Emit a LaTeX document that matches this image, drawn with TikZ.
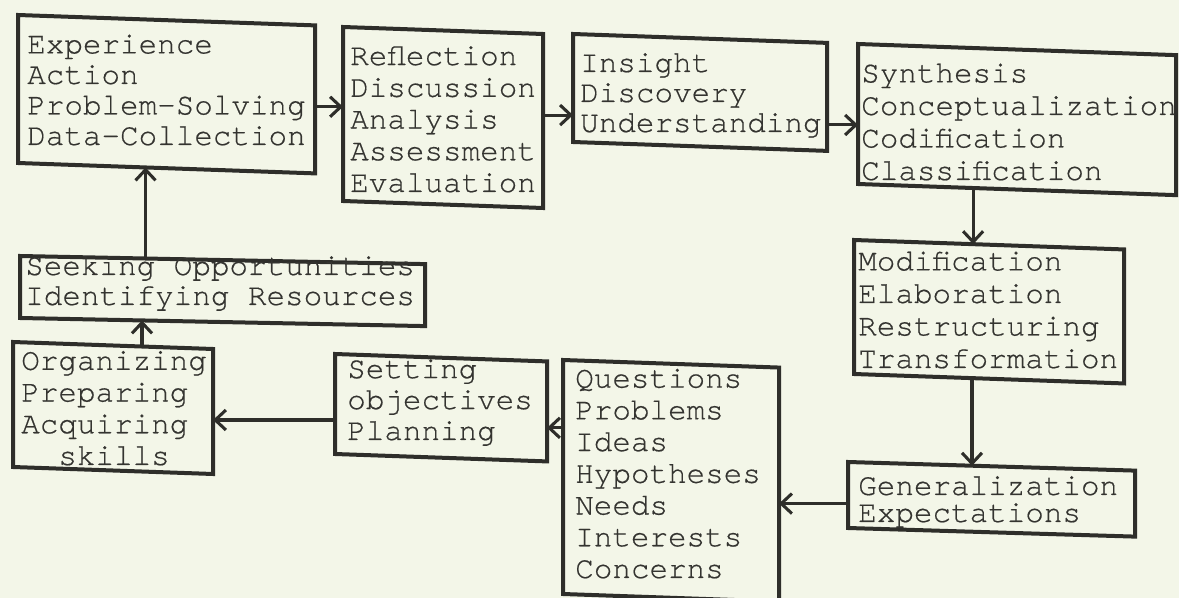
\documentclass[tikz,border=0pt]{standalone}
\usepackage{fontspec}
\newfontfamily\tw[FakeBold=0.5]{TeX Gyre Cursor}
\usetikzlibrary{arrows.meta,calc}
\definecolor{paper}{RGB}{243,246,232}
\definecolor{ink}{RGB}{46,46,42}
\definecolor{typeink}{RGB}{52,52,48}
% a hand-ruled box: [slant], name, left x, top y (left edge), width, height (in px units)
\newcommand\flowbox[6][0.035]{%
  \begin{scope}[shift={(#3,#4)},yslant=-#1]
    \node[boxshape,minimum width=#5*0.75pt,minimum height=#6*0.75pt] (#2) at (0,0) {};
  \end{scope}}
\tikzset{
  boxshape/.style={draw=ink,line width=3pt,rectangle,anchor=north west,
    inner sep=0pt,outer sep=0pt,transform shape},
  % texts are placed by the baseline of their last line
  txt/.style={anchor=base west,align=left,inner sep=0pt,text=typeink,
    font={\tw\fontsize{23.2}{#1}\selectfont}},
  link/.style={draw=ink,line width=2.3pt,line cap=round,
    -{Straight Barb[length=8pt,width=15pt]}},
}
\begin{document}
\begin{tikzpicture}[x=0.75pt,y=-0.75pt]
\useasboundingbox (0,0) rectangle (1179,598);
\fill[paper] (0,0) rectangle (1179,598);

% boxes
\flowbox{b1}{18}{15}{297}{148}
\flowbox{b2}{343}{27}{200}{174}
\flowbox{b3}{573}{34}{254}{108}
\flowbox{b4}{858}{44}{318}{140}
\flowbox{b5}{854}{240}{270}{134}
\flowbox[0.03]{b6}{848}{462}{287}{66}
\flowbox{b7}{563}{360}{216}{234}
\flowbox{b8}{335}{354}{212}{100}
\flowbox{b9}{13}{342}{200}{125}
\flowbox[0.02]{b10}{20}{256}{405}{62}

% typed texts
\node[txt=22.9] (t1) at (27,145) {Experience\\Action\\Problem-Solving\\Data-Collection};
\node[txt=23.8] (t2) at (350,192) {Reflection\\Discussion\\Analysis\\Assessment\\Evaluation};
\node[txt=22.5] (t3) at (580,132) {Insight\\Discovery\\Understanding};
\node[txt=24.4] (t4) at (861,180) {Synthesis\\Conceptualization\\Codification\\Classification};
\node[txt=24.4] (t5) at (858,368) {Modification\\Elaboration\\Restructuring\\Transformation};
\node[txt=20.3] (t6) at (858,522) {Generalization\\Expectations};
\node[txt=23.8] (t7) at (575,578) {Questions\\Problems\\Ideas\\Hypotheses\\Needs\\Interests\\Concerns};
\node[txt=23.2] (t8) at (347,440) {Setting\\objectives\\Planning};
\node[txt=23.8] (t9) at (21,465) {Organizing\\Preparing\\Acquiring\\\phantom{xx}skills};
\node[txt=22.5] (t10) at (25,305) {Seeking Opportunities\\Identifying Resources};

% top row, left to right
\coordinate (h1s) at ($(b1.north east)!0.55!(b1.south east)$);
\draw[link] (h1s) -- (h1s -| b2.west);
\coordinate (h2s) at ($(b2.north east)!0.466!(b2.south east)$);
\draw[link] (h2s) -- (h2s -| b3.west);
\coordinate (h3s) at ($(b3.north east)!0.76!(b3.south east)$);
\draw[link] (h3s) -- (h3s -| b4.west);

% right column, downwards
\coordinate (d1s) at ($(b4.south west)!0.362!(b4.south east)$);
\coordinate (d1e) at ($(b5.north west)!0.441!(b5.north east)$);
\draw[link] (d1s) -- (d1s |- d1e);
\coordinate (d2s) at ($(b5.south west)!0.437!(b5.south east)$);
\coordinate (d2e) at ($(b6.north west)!0.432!(b6.north east)$);
\draw[link] (d2s) -- (d2s |- d2e);

% bottom row, right to left
\coordinate (h4s) at ($(b6.north west)!0.63!(b6.south west)$);
\draw[link] (h4s) -- (h4s -| b7.east);
\coordinate (h5s) at ($(b7.north west)!0.29!(b7.south west)$);
\draw[link] (h5s) -- (h5s -| b8.east);
\coordinate (h6s) at ($(b8.north west)!0.66!(b8.south west)$);
\draw[link] (h6s) -- (h6s -| b9.east);

% left column, upwards
\coordinate (u2s) at ($(b9.north west)!0.645!(b9.north east)$);
\coordinate (u2e) at ($(b10.south west)!0.30!(b10.south east)$);
\draw[link] (u2s) -- (u2s |- u2e);
\coordinate (u1s) at ($(b10.north west)!0.31!(b10.north east)$);
\coordinate (u1e) at ($(b1.south west)!0.43!(b1.south east)$);
\draw[link] (u1s) -- (u1s |- u1e);
\end{tikzpicture}
\end{document}
